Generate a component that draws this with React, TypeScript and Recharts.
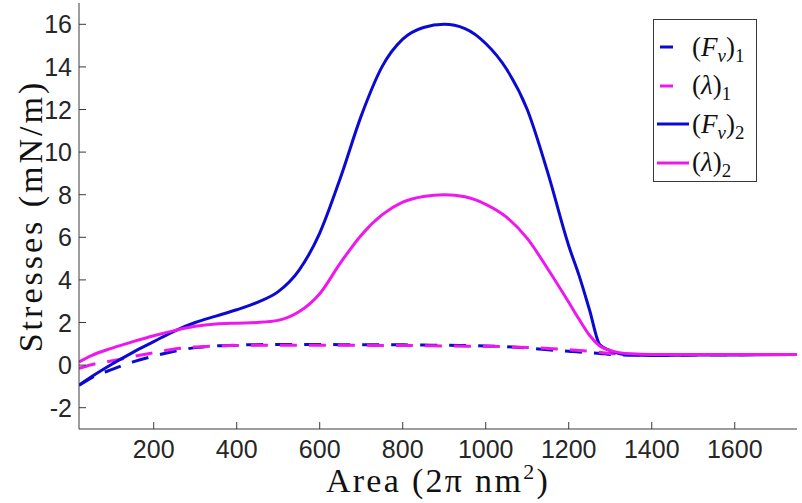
import React from "react";
import { LineChart, Line, XAxis, YAxis, Legend, Label } from "recharts";

// area grid (2π nm²)
const AREA = [
  20, 50, 100, 150, 200, 250, 300, 350, 400, 450, 500, 550, 600, 650, 700,
  750, 800, 850, 900, 950, 1000, 1050, 1100, 1150, 1200, 1225, 1250, 1275,
  1300, 1350, 1400, 1500, 1600, 1750,
];

const F_NU_1 = [
  -0.95, -0.6, -0.2, 0.15, 0.42, 0.65, 0.82, 0.9, 0.94, 0.96, 0.97, 0.97,
  0.97, 0.96, 0.96, 0.95, 0.95, 0.94, 0.93, 0.92, 0.9, 0.86, 0.8, 0.72, 0.65,
  0.61, 0.58, 0.55, 0.5, 0.47, 0.47, 0.48, 0.49, 0.5,
];

const LAMBDA_1 = [
  -0.15, 0.02, 0.2, 0.4, 0.58, 0.76, 0.85, 0.9, 0.92, 0.93, 0.93, 0.93, 0.93,
  0.93, 0.93, 0.92, 0.92, 0.91, 0.9, 0.89, 0.88, 0.86, 0.83, 0.78, 0.72, 0.69,
  0.65, 0.6, 0.55, 0.5, 0.5, 0.5, 0.5, 0.5,
];

const F_NU_2 = [
  -0.95, -0.55, 0.05, 0.6, 1.1, 1.6, 2.0, 2.3, 2.6, 2.95, 3.45, 4.45, 6.2,
  8.8, 11.7, 14.0, 15.3, 15.85, 16.0, 15.8, 15.1, 13.9, 12.0, 9.0, 5.6, 4.2,
  2.6, 0.95, 0.68, 0.47, 0.45, 0.47, 0.48, 0.5,
];

const LAMBDA_2 = [
  0.15, 0.45, 0.8, 1.1, 1.38, 1.62, 1.82, 1.93, 1.97, 2.0, 2.1, 2.5, 3.35,
  4.8, 6.1, 7.05, 7.65, 7.92, 8.0, 7.9, 7.55, 6.95, 5.95, 4.5, 2.95, 2.15,
  1.4, 0.9, 0.68, 0.53, 0.5, 0.5, 0.5, 0.5,
];

const X_TICKS = [200, 400, 600, 800, 1000, 1200, 1400, 1600];
const Y_TICKS = [-2, 0, 2, 4, 6, 8, 10, 12, 14, 16];

const data = AREA.map((a, i) => ({
  area: a,
  fnu1: F_NU_1[i],
  lam1: LAMBDA_1[i],
  fnu2: F_NU_2[i],
  lam2: LAMBDA_2[i],
}));

const BLUE = "#0a0ad2";
const MAGENTA = "#ee18ee";
const AXIS = "#3a3a3a";
const DASH = "17 12";
const TICK_FONT = "'Liberation Sans', Arial, Helvetica, sans-serif";
const SERIF = "'Liberation Serif', 'Times New Roman', serif";

const BottomTick = ({ x, y, payload }: any) => (
  <g>
    <line x1={x} y1={y} x2={x} y2={y - 7} stroke={AXIS} />
    <text x={x} y={y + 29} textAnchor="middle" fontSize={25} fontFamily={TICK_FONT} fill="#262626">
      {payload.value}
    </text>
  </g>
);

const TopTick = ({ x, y }: any) => <line x1={x} y1={y} x2={x} y2={y + 7} stroke={AXIS} />;

const LeftTick = ({ x, y, payload }: any) => (
  <g>
    <line x1={x} y1={y} x2={x + 7} y2={y} stroke={AXIS} />
    <text x={x - 7} y={y + 9} textAnchor="end" fontSize={25} fontFamily={TICK_FONT} fill="#262626">
      {payload.value}
    </text>
  </g>
);

const RightTick = ({ x, y }: any) => <line x1={x} y1={y} x2={x - 7} y2={y} stroke={AXIS} />;

const XTitle = ({ viewBox }: any) => (
  <text
    x={viewBox.x + viewBox.width / 2}
    y={viewBox.y + 63}
    textAnchor="middle"
    fontSize={34}
    fontFamily={SERIF}
    letterSpacing={2.3}
    fill="#111"
  >
    Area (2π nm<tspan dy={-13} fontSize={22}>2</tspan>
    <tspan dy={13}>)</tspan>
  </text>
);

const YTitle = ({ viewBox }: any) => {
  const cx = 42;
  const cy = viewBox.y + viewBox.height / 2;
  return (
    <text
      x={cx}
      y={cy}
      transform={`rotate(-90, ${cx}, ${cy})`}
      textAnchor="middle"
      fontSize={34}
      fontFamily={SERIF}
      letterSpacing={3}
      fill="#111"
    >
      Stresses (mN/m)
    </text>
  );
};

const sub = { fontSize: "70%", verticalAlign: "-0.3em", lineHeight: 0 } as const;

const LEGEND_ROWS = [
  { color: BLUE, dashed: true, label: (<>(<i>F</i><span style={sub}><i>ν</i></span>)<span style={sub}>1</span></>) },
  { color: MAGENTA, dashed: true, label: (<>(<i>λ</i>)<span style={sub}>1</span></>) },
  { color: BLUE, dashed: false, label: (<>(<i>F</i><span style={sub}><i>ν</i></span>)<span style={sub}>2</span></>) },
  { color: MAGENTA, dashed: false, label: (<>(<i>λ</i>)<span style={sub}>2</span></>) },
];

const renderLegend = () => (
  <div
    style={{
      width: 104,
      height: 163,
      boxSizing: "border-box",
      border: `1px solid ${AXIS}`,
      background: "#fff",
      paddingTop: 8,
    }}
  >
    {LEGEND_ROWS.map((r, i) => (
      <div key={i} style={{ height: 38.5, display: "flex", alignItems: "center" }}>
        <svg width={37} height={10} style={{ flex: "none" }}>
          {r.dashed ? (
            <line x1={6} y1={5} x2={19} y2={5} stroke={r.color} strokeWidth={3} />
          ) : (
            <line x1={3} y1={5} x2={35} y2={5} stroke={r.color} strokeWidth={3} />
          )}
        </svg>
        <span style={{ fontFamily: SERIF, fontSize: 27, color: "#111", lineHeight: 1, marginLeft: 1 }}>
          {r.label}
        </span>
      </div>
    ))}
  </div>
);

export default function App() {
  return (
    <div style={{ position: "absolute", left: 0, top: 0, width: 802, height: 503, background: "#fff" }}>
      <LineChart width={802} height={503} data={data} margin={{ top: 3, right: 5, bottom: 0, left: 0 }}>
        <XAxis
          dataKey="area"
          type="number"
          domain={[20, 1750]}
          ticks={X_TICKS}
          allowDataOverflow
          height={74}
          tickSize={0}
          tickMargin={0}
          tickLine={false}
          axisLine={{ stroke: AXIS }}
          tick={<BottomTick />}
          interval={0}
        >
          <Label content={<XTitle />} />
        </XAxis>
        <XAxis
          xAxisId="top"
          orientation="top"
          dataKey="area"
          type="number"
          domain={[20, 1750]}
          ticks={X_TICKS}
          allowDataOverflow
          height={0}
          tickSize={0}
          tickMargin={0}
          tickLine={false}
          axisLine={{ stroke: AXIS }}
          tick={<TopTick />}
          interval={0}
        />
        <YAxis
          type="number"
          domain={[-3, 17]}
          ticks={Y_TICKS}
          allowDataOverflow
          width={79}
          tickSize={0}
          tickMargin={0}
          tickLine={false}
          axisLine={{ stroke: AXIS }}
          tick={<LeftTick />}
          interval={0}
        >
          <Label content={<YTitle />} />
        </YAxis>
        <YAxis
          yAxisId="right"
          orientation="right"
          type="number"
          domain={[-3, 17]}
          ticks={Y_TICKS}
          allowDataOverflow
          width={0}
          tickSize={0}
          tickMargin={0}
          tickLine={false}
          axisLine={{ stroke: AXIS }}
          tick={<RightTick />}
          interval={0}
        />
        <Legend
          layout="vertical"
          align="center"
          verticalAlign="middle"
          content={renderLegend}
          wrapperStyle={{ left: 653, top: 19, width: 104, height: 163 }}
        />
        <Line dataKey="fnu1" type="monotone" stroke={BLUE} strokeWidth={3} strokeDasharray={DASH} dot={false} isAnimationActive={false} />
        <Line dataKey="lam1" type="monotone" stroke={MAGENTA} strokeWidth={3} strokeDasharray={DASH} dot={false} isAnimationActive={false} />
        <Line dataKey="fnu2" type="monotone" stroke={BLUE} strokeWidth={3} dot={false} isAnimationActive={false} />
        <Line dataKey="lam2" type="monotone" stroke={MAGENTA} strokeWidth={3} dot={false} isAnimationActive={false} />
      </LineChart>
    </div>
  );
}
